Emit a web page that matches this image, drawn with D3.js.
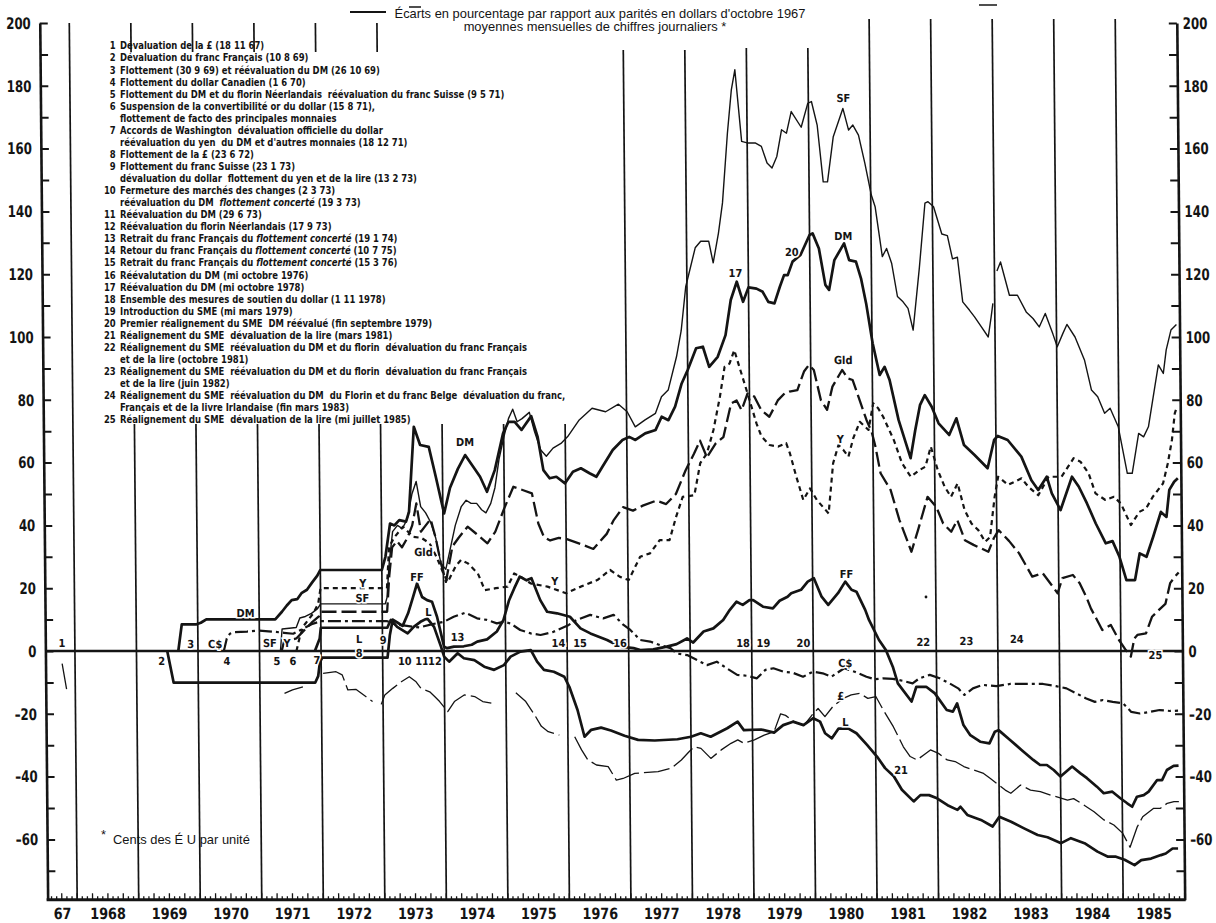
<!DOCTYPE html>
<html><head><meta charset="utf-8">
<script src="https://cdn.jsdelivr.net/npm/d3@7/dist/d3.min.js"></script>
<style>
body{margin:0;background:#fff}
svg{display:block;background:#fff}
text{fill:#141414}
.lg{font-family:"Liberation Sans Narrow","DejaVu Sans Condensed",sans-serif;font-weight:bold;font-size:11px;white-space:pre}
.tk{font-family:"Liberation Sans Narrow","DejaVu Sans Condensed",sans-serif;font-weight:bold}
.ttl{font-family:"Liberation Sans",Arial,sans-serif;font-size:12.9px}
</style></head><body>
<svg id="c" width="1216" height="923"></svg>
<script>
// ---------------- DATA ----------------
const yearLabels = ["67","1968","1969","1970","1971","1972","1973","1974","1975","1976","1977","1978","1979","1980","1981","1982","1983","1984","1985"];
const yTickValues = [200,180,160,140,120,100,80,60,40,20,0,-20,-40,-60];

const SF = [[1971.34,0],[1971.37,7],[1971.6,7.5],[1971.66,10.5],[1971.75,11],[1971.85,12],[1971.95,13.5],[1972.0,15],[1973.05,15],
[1973.08,17],[1973.12,28],[1973.18,38],[1973.26,40],[1973.34,39],[1973.42,42],[1973.5,50],[1973.57,54],[1973.64,46],[1973.72,44],[1973.8,41],[1973.88,36],[1973.96,28],
[1974.04,26],[1974.12,33],[1974.2,40],[1974.3,46],[1974.38,48],[1974.46,47],[1974.55,47],[1974.63,45],[1974.7,44],[1974.78,47],[1974.85,52],[1974.92,61],
[1975.0,68],[1975.08,74],[1975.15,77],[1975.22,73],[1975.3,74],[1975.42,76],[1975.5,70],[1975.6,64],[1975.69,62],[1975.8,64.6],[1975.93,66.1],
[1976.04,68.3],[1976.23,73.6],[1976.44,77.3],[1976.66,76.2],[1976.87,78.6],[1977.01,76.2],[1977.14,71.4],[1977.3,73.6],[1977.47,75.7],[1977.57,81],[1977.68,83.1],[1977.82,93.7],[1977.9,102],[1977.98,116],
[1978.14,128.4],[1978.23,130.5],[1978.36,130.5],[1978.43,123.6],[1978.52,133.1],[1978.59,142.7],[1978.68,164.9],[1978.75,178.7],[1978.81,185.1],[1978.91,162.3],
[1979.0,161.8],[1979.13,161.8],[1979.23,160.7],[1979.32,155.4],[1979.4,153.8],[1979.48,157.5],[1979.56,166],[1979.64,164.9],[1979.72,171.8],[1979.88,166.8],[1979.99,174.4],
[1980.05,175],[1980.14,167.5],[1980.23,149.4],[1980.3,149.4],[1980.4,163.8],[1980.56,172.8],[1980.65,165.9],[1980.72,167.5],[1980.81,164.3],[1980.91,155.3],
[1981.01,145.2],[1981.07,141.5],[1981.18,125.6],[1981.25,128.2],[1981.33,123.5],[1981.42,112.9],[1981.51,111.2],[1981.59,109.1],[1981.67,102.2],[1981.78,122],[1981.88,142.6],[1981.93,143.1],
[1982.02,141.5],[1982.15,132.8],[1982.24,132.3],[1982.32,124.9],[1982.4,125.4],[1982.48,111.2],[1982.59,108.5],[1982.67,106.4],[1982.78,103.2],[1982.89,100],[1982.94,106.4],[1982.97,110.7],[1983.0,null],
[1983.04,121],[1983.1,123.9],[1983.24,113.3],[1983.37,113.3],[1983.51,108],[1983.62,105.9],[1983.72,103.2],[1983.82,107.5],[1983.94,101],
[1984.01,96.9],[1984.1,101],[1984.17,104],[1984.3,100],[1984.45,92.7],[1984.56,83.1],[1984.66,81],[1984.77,75.7],[1984.86,77.3],[1984.99,71.4],
[1985.13,56.6],[1985.21,56.6],[1985.32,69.3],[1985.4,68.2],[1985.48,71.4],[1985.59,84.2],[1985.65,91.1],[1985.73,88.4],[1985.78,95.9],[1985.86,102.2],[1985.95,104]];

const DM = [[1969.68,0],[1969.74,8.5],[1969.98,8.5],[1970.05,9],[1970.14,10.1],[1971.26,10.1],[1971.37,12.5],[1971.45,14.5],[1971.53,16.2],[1971.62,16.5],[1971.69,18.4],[1971.78,19.5],[1971.86,21.7],[1971.95,24],[1972.0,25.8],[1973.0,25.8],
[1973.06,30],[1973.14,40.6],[1973.21,40],[1973.29,41.7],[1973.4,41.2],[1973.45,44.3],[1973.54,71.4],[1973.64,65.6],[1973.78,65],[1973.89,55.5],[1974.02,43.8],
[1974.12,52],[1974.25,58],[1974.37,62.4],[1974.5,58.7],[1974.61,55.5],[1974.72,50.7],[1974.85,57.6],[1974.99,69.3],
[1975.08,73],[1975.18,73],[1975.29,70.4],[1975.45,74.8],[1975.55,68.3],[1975.64,57.6],[1975.74,55],[1975.85,55.5],[1975.99,53.4],
[1976.12,57.1],[1976.25,58.2],[1976.39,56.6],[1976.5,55.5],[1976.6,58.7],[1976.77,64],[1976.93,67.2],[1977.04,68.2],[1977.14,67.2],[1977.3,69.3],[1977.47,70.4],[1977.57,74.6],[1977.68,73.5],[1977.79,77.8],[1977.9,85.2],
[1978.0,89.5],[1978.14,96.4],[1978.25,96.9],[1978.35,90.5],[1978.49,93.7],[1978.62,100.6],[1978.71,111.8],[1978.81,117.6],[1978.91,111.2],
[1979.0,115.8],[1979.13,115.4],[1979.23,114.4],[1979.32,111.2],[1979.42,110.7],[1979.51,116],[1979.58,119.7],[1979.64,119.7],[1979.72,124],[1979.85,126.1],
[1980.0,132.5],[1980.05,133],[1980.15,128.2],[1980.25,116.6],[1980.31,115],[1980.4,124.5],[1980.56,129.8],[1980.64,124.5],[1980.75,124],[1980.83,118.7],[1980.91,110.7],
[1981.01,98],[1981.12,87.9],[1981.2,90.5],[1981.28,86.3],[1981.42,73.6],[1981.61,61.4],[1981.69,70.4],[1981.77,78.3],[1981.85,81.5],[1981.96,77.8],
[1982.07,72.5],[1982.24,68.8],[1982.36,74.1],[1982.48,65.6],[1982.65,62.4],[1982.86,58.2],[1982.97,67.2],[1983.03,68.5],[1983.19,67.2],[1983.41,61.9],[1983.57,54.4],[1983.68,51.3],[1983.82,55.5],[1983.9,50.2],
[1984.04,44.9],[1984.23,55.5],[1984.34,52.3],[1984.47,47],[1984.61,40.6],[1984.77,34.3],[1984.88,35],[1984.99,30],
[1985.1,22.6],[1985.24,22.6],[1985.32,31.1],[1985.43,30],[1985.54,36.3],[1985.67,44.3],[1985.76,42.7],[1985.81,51.3],[1985.89,53.9],[1985.95,55]];

const GLD = [[1971.36,0],[1971.4,3],[1971.6,4],[1971.7,6],[1971.85,9],[1971.97,11],[1972.0,12.5],[1973.08,12.5],
[1973.12,24],[1973.17,33],[1973.25,35],[1973.33,33],[1973.42,36],[1973.5,40],[1973.57,47],[1973.64,38],[1973.72,40],[1973.8,42],[1973.88,36],[1973.96,28],
[1974.04,22],[1974.15,33.3],[1974.25,36],[1974.4,39.6],[1974.53,37.5],[1974.72,34.3],[1974.85,38],[1975.0,45.5],[1975.15,52.3],[1975.31,51.2],[1975.45,50.2],[1975.55,40.6],[1975.64,36.3],[1975.74,35.2],[1975.88,36],
[1976.0,35.7],[1976.23,34.1],[1976.44,32.5],[1976.66,37.3],[1976.77,41.5],[1976.93,45.8],[1977.09,44.7],[1977.25,46.3],[1977.47,47.9],[1977.63,46.8],[1977.79,50],[1977.95,57.5],
[1978.09,62.8],[1978.19,67],[1978.3,61.7],[1978.44,66],[1978.57,68.1],[1978.7,78.8],[1978.79,79.8],[1978.87,76.7],[1978.97,82],
[1979.08,81],[1979.19,76.7],[1979.32,74.6],[1979.46,79.8],[1979.57,82],[1979.65,82.6],[1979.78,83.1],[1979.89,89],[1979.97,91.1],
[1980.05,89.5],[1980.16,79.9],[1980.26,76.8],[1980.35,84.2],[1980.51,89.5],[1980.6,86.8],[1980.68,86.3],[1980.79,79.9],[1980.9,73.5],[1980.98,69.9],
[1981.04,65.1],[1981.12,56.6],[1981.28,51.3],[1981.42,41.7],[1981.61,31.6],[1981.72,38.5],[1981.88,49.1],
[1982.02,45.9],[1982.13,40.6],[1982.26,38],[1982.36,41.7],[1982.48,35.3],[1982.62,33.8],[1982.86,31.6],[1982.95,35.9],
[1983.03,38.5],[1983.2,35],[1983.36,31.1],[1983.57,23.7],[1983.74,24.8],[1983.98,18.4],[1984.06,23.2],[1984.23,24.2],[1984.34,21.6],[1984.45,17],[1984.52,13.5],[1984.59,10.9],[1984.7,6.7],[1984.84,8.3],[1984.97,3.5],
[1985.08,0.3],[1985.16,-1.8],[1985.22,4],[1985.27,5.1],[1985.41,5.6],[1985.51,10.9],[1985.62,13],[1985.73,15],[1985.81,21.6],[1985.89,23.7],[1985.95,25]];

const YEN = [[1971.6,0],[1971.65,4],[1971.72,8],[1971.8,10],[1971.88,12],[1971.96,15],[1972.0,20],[1973.08,20],
[1973.12,33],[1973.2,36],[1973.35,39.6],[1973.51,36.4],[1973.65,36],[1973.78,34.3],[1973.89,30],[1974.0,24.7],[1974.07,22],[1974.2,27],[1974.29,29],[1974.4,27.9],[1974.56,24.7],[1974.67,19.4],[1974.85,20],
[1975.04,20.5],[1975.15,24.7],[1975.26,23.6],[1975.42,21.5],[1975.69,20.5],[1975.99,18.4],[1976.23,20.5],[1976.5,22.6],[1976.71,25.8],[1976.87,23.6],
[1977.01,22.6],[1977.2,30],[1977.36,31.1],[1977.52,35.3],[1977.68,35.3],[1977.79,42.7],[1977.9,49.1],[1978.09,49.6],[1978.19,59.8],[1978.3,62.9],[1978.41,70.4],[1978.52,81],[1978.6,90.5],[1978.68,91.5],[1978.76,95.8],[1978.84,90.5],[1978.97,82],
[1979.11,72.5],[1979.19,68.3],[1979.32,65.6],[1979.46,65.1],[1979.59,66.2],[1979.65,62.9],[1979.75,55.5],[1979.86,48.1],[1979.97,51.8],
[1980.08,48.1],[1980.27,43.8],[1980.35,59.8],[1980.44,65.6],[1980.52,64],[1980.6,61.9],[1980.68,67.7],[1980.79,73],[1980.93,70.4],
[1981.01,78.9],[1981.09,77.3],[1981.17,74.6],[1981.34,67.2],[1981.47,59.8],[1981.61,55.5],[1981.75,57.6],[1981.85,58.7],[1981.94,65.1],
[1982.05,57.6],[1982.16,52.3],[1982.26,49.1],[1982.37,53.4],[1982.48,44.9],[1982.59,40.6],[1982.7,38.5],[1982.81,34.8],[1982.89,36.3],[1982.97,49.1],
[1983.03,55.5],[1983.19,52.9],[1983.41,55],[1983.52,52.3],[1983.68,49.6],[1983.85,55.5],[1984.06,55.5],[1984.26,61.4],[1984.37,60.3],[1984.5,56.6],[1984.61,50.2],[1984.77,48.1],[1984.91,49.1],
[1985.02,47],[1985.18,40.1],[1985.32,44.3],[1985.43,45.4],[1985.54,49.1],[1985.71,53.4],[1985.79,59.8],[1985.86,67.2],[1985.91,75.7],[1985.95,78]];

const FF = [[1969.5,0],[1969.6,-10.1],[1971.9,-10.1],[1971.95,-8],[1971.98,-3.5],[1972.02,-2.1],[1973.08,-2.1],
[1973.12,5],[1973.17,10],[1973.25,9],[1973.33,8],[1973.42,12],[1973.5,17],[1973.57,21.5],[1973.65,17.2],[1973.73,16.2],[1973.81,15.7],[1973.89,10.9],[1974.0,1.4],
[1974.05,0.9],[1974.16,1.4],[1974.32,1.5],[1974.45,2],[1974.54,3],[1974.7,3.7],[1974.86,6.2],[1974.97,9.9],[1975.06,16],[1975.15,20],[1975.24,23.7],[1975.35,22.5],[1975.43,23.2],[1975.57,16.2],[1975.68,12.5],[1975.84,12],
[1976.05,10.9],[1976.22,7.2],[1976.38,5.6],[1976.65,3.5],[1976.86,1.4],[1977.08,0.9],[1977.19,0.3],[1977.4,0.5],[1977.62,1.4],[1977.78,2.2],[1977.95,4],
[1978.05,2.7],[1978.22,6.2],[1978.38,7.2],[1978.54,9.9],[1978.65,13.1],[1978.76,15.7],[1978.86,14.7],[1978.97,16.2],[1979.03,16.2],[1979.19,14.1],[1979.35,13.6],[1979.46,16],[1979.59,17.3],[1979.65,18.4],[1979.81,19.5],[1979.92,22.1],
[1980.02,23.2],[1980.14,17.4],[1980.25,14.7],[1980.41,18.4],[1980.53,22.1],[1980.63,19.5],[1980.71,18.9],[1980.85,13.1],[1980.91,9.9],
[1981.07,3.5],[1981.18,0.3],[1981.29,-5],[1981.37,-10.3],[1981.59,-16.1],[1981.67,-11.4],[1981.83,-11.4],[1981.97,-13.5],
[1982.16,-18.8],[1982.26,-19.3],[1982.33,-16.7],[1982.43,-23.6],[1982.54,-26.8],[1982.7,-28.9],[1982.85,-29.4],[1982.94,-25.7],[1983.0,-25.2],
[1983.19,-28.4],[1983.37,-31.5],[1983.56,-34.7],[1983.67,-36.3],[1983.78,-36.3],[1983.89,-37.9],[1984.0,-40],[1984.19,-36.8],[1984.32,-38.9],[1984.43,-40.5],[1984.59,-43.2],[1984.7,-45.3],[1984.84,-44.8],[1984.97,-46.9],
[1985.08,-48.5],[1985.16,-49.6],[1985.24,-46.4],[1985.35,-45.9],[1985.43,-44.8],[1985.57,-41.1],[1985.65,-41.1],[1985.73,-37.9],[1985.84,-36.6],[1985.92,-36.5]];

const LIRA = [[1971.9,0],[1971.98,4],[1972.0,7.4],[1973.08,7.4],
[1973.1,8.3],[1973.14,9.9],[1973.24,7.7],[1973.41,5.6],[1973.51,7.7],[1973.62,9.3],[1973.73,10.4],[1973.84,7.7],[1973.95,1.4],
[1974.0,-1.8],[1974.08,-3.4],[1974.22,-0.7],[1974.32,-2.3],[1974.49,-2.9],[1974.65,-5],[1974.81,-6],[1974.97,-4.5],[1975.08,-1.8],[1975.24,-0.2],[1975.41,0.3],[1975.51,-3.4],[1975.62,-6],[1975.78,-6.6],[1975.95,-8.2],
[1976.03,-11.4],[1976.16,-18.8],[1976.27,-27.3],[1976.38,-25.1],[1976.54,-24.4],[1976.7,-25.3],[1976.92,-27],[1977.14,-28.3],[1977.41,-28.5],[1977.78,-28.1],
[1978.0,-27.3],[1978.16,-26.2],[1978.32,-27.3],[1978.59,-24.6],[1978.76,-22.5],[1978.86,-25.2],[1979.14,-25],[1979.35,-26],[1979.5,-23.6],[1979.66,-22.5],[1979.83,-23.6],[1979.99,-21.4],
[1980.1,-22.5],[1980.18,-26.2],[1980.29,-27.8],[1980.4,-24.7],[1980.56,-24.7],[1980.69,-26.2],[1980.86,-29.9],
[1981.02,-33.6],[1981.15,-37.3],[1981.29,-39.9],[1981.42,-44.2],[1981.61,-47.9],[1981.72,-45.9],[1981.86,-45.9],[1981.99,-46.9],
[1982.16,-49.1],[1982.32,-50.6],[1982.37,-49.6],[1982.48,-52.2],[1982.7,-53.8],[1982.89,-55.9],[1983.0,-52.8],[1983.19,-54.4],[1983.4,-56.5],[1983.62,-58.6],[1983.78,-59.3],
[1984.0,-61.2],[1984.16,-59.6],[1984.38,-61.2],[1984.59,-63.9],[1984.76,-65.5],[1984.89,-65.5],[1985.03,-66.5],[1985.19,-68.2],[1985.3,-66.6],[1985.46,-66.1],[1985.62,-65],[1985.7,-64.5],[1985.81,-62.9],[1985.9,-62.9]];

const GBP = [[1967.79,-4],[1967.87,-13.5],[1967.9,null],
[1971.4,-13.5],[1971.53,-12.4],[1971.7,-11.4],[1971.8,null],
[1972.03,-7.1],[1972.24,-6.6],[1972.34,-7.6],[1972.43,-12.4],[1972.56,-12.2],[1972.72,-14.5],[1972.83,-16.1],[1972.9,null],
[1972.97,-17],[1973.03,-14],[1973.16,-11.9],[1973.3,-9.8],[1973.43,-8.2],[1973.54,-9.8],[1973.62,-11.9],[1973.76,-13],[1973.84,-14.5],[1973.92,-16.1],
[1974.05,-19.3],[1974.16,-16.1],[1974.32,-14],[1974.49,-14.5],[1974.62,-16.1],[1974.76,-16.6],[1974.9,null],
[1975.16,-13.3],[1975.32,-16.1],[1975.46,-20.3],[1975.57,-24],[1975.68,-25.7],[1975.86,-26.8],[1975.95,null],
[1976.11,-27.3],[1976.22,-31.5],[1976.32,-34.7],[1976.46,-36.3],[1976.65,-36.8],[1976.78,-41.1],[1976.89,-40.6],
[1977.08,-39],[1977.46,-38.4],[1977.68,-37.3],[1977.84,-34.7],[1977.97,-32],[1978.05,-30.5],[1978.16,-31],[1978.32,-34.2],[1978.49,-31.5],[1978.65,-29.4],[1978.76,-28.3],[1978.86,-29.4],
[1979.03,-28.3],[1979.19,-26.8],[1979.35,-25.7],[1979.46,-20],[1979.54,-20.5],[1979.68,-22.6],[1979.84,-23.6],[1979.97,-20.4],
[1980.07,-18.3],[1980.18,-20.9],[1980.31,-17.7],[1980.48,-15.1],[1980.61,-14],[1980.75,-13.5],[1980.88,-15.1],
[1981.01,-14.5],[1981.13,-18.8],[1981.29,-24.1],[1981.45,-30.5],[1981.56,-33.6],[1981.67,-34.7],[1981.78,-33.1],[1981.89,-31.5],
[1982.02,-32.6],[1982.16,-34.7],[1982.29,-35.2],[1982.43,-36.8],[1982.59,-37.9],[1982.75,-39],[1982.86,-40.6],
[1983.1,-44.3],[1983.19,-45.3],[1983.35,-42.7],[1983.51,-44.3],[1983.67,-44.8],[1983.84,-45.9],
[1984.11,-47.5],[1984.21,-47],[1984.38,-49.1],[1984.54,-51.2],[1984.7,-53.8],[1984.86,-55.4],[1985.0,-58],[1985.12,-62.5],[1985.24,-56],[1985.33,-52.8],[1985.51,-50.1],[1985.62,-50.1],[1985.73,-48.5],[1985.84,-48],[1985.92,-48]];

const CAD = [[1970.42,0],[1970.47,4],[1970.52,5.5],[1970.6,6],[1970.8,6.2],[1971.0,6.5],[1971.2,6.2],[1971.4,5.8],[1971.55,5.5],[1971.7,7],[1971.85,8.5],[1972.0,9.5],[1973.08,9.5],
[1973.2,8.5],[1973.4,8],[1973.6,7.5],[1973.8,8.5],[1974.0,9.3],[1974.16,10.9],[1974.35,12.2],[1974.54,10.4],[1974.7,9.9],[1974.86,8.8],[1974.97,9.3],
[1975.08,8.8],[1975.24,6.7],[1975.41,5.6],[1975.57,5.1],[1975.78,6.1],[1976.03,8.3],[1976.16,9.9],[1976.38,11.5],[1976.59,10.4],[1976.76,11.5],[1976.92,8.3],
[1977.03,6.7],[1977.19,3.5],[1977.35,3],[1977.51,1.9],[1977.68,0.9],[1977.78,-0.8],[1977.95,-1.3],[1978.11,-2.9],[1978.27,-4.5],[1978.43,-3.4],[1978.59,-5.5],[1978.76,-7.6],[1978.92,-7.9],
[1979.08,-8.7],[1979.22,-6],[1979.35,-5.5],[1979.51,-6.6],[1979.66,-6.9],[1979.83,-8.2],[1979.99,-6.6],[1980.15,-7.1],[1980.29,-8.2],[1980.5,-5.5],[1980.67,-6.6],[1980.86,-8.2],[1980.99,-9],
[1981.13,-8.7],[1981.29,-8.9],[1981.45,-9.5],[1981.61,-10.3],[1981.72,-8.7],[1981.89,-7.6],[1982.05,-8.7],[1982.21,-10.3],[1982.35,-11.9],[1982.45,-14],[1982.59,-11.9],[1982.75,-10.8],[1982.97,-11.2],
[1983.19,-10.5],[1983.4,-10.5],[1983.73,-10.5],[1983.94,-11.2],[1984.11,-11.9],[1984.27,-13.5],[1984.43,-15.1],[1984.57,-16.2],[1984.7,-15.6],[1984.86,-16.2],
[1985.03,-16.7],[1985.16,-19.4],[1985.3,-19.9],[1985.46,-19.4],[1985.62,-18.8],[1985.79,-19.1],[1985.92,-19]];

const eventLabels = [["1",1967.79,2.5],["2",1969.41,-3.1],["3",1969.88,2.1],["4",1970.47,-3.1],["5",1971.28,-3.1],["6",1971.54,-3.1],["7",1971.93,-2.9],["8",1972.62,-0.5],["9",1973.01,3.5],["10",1973.36,-3.1],["11",1973.64,-3.1],["12",1973.85,-3.1],["13",1974.22,4.4],["14",1975.86,2.6],["15",1976.21,2.6],["16",1976.86,2.6],["17",1978.79,120.5],["18",1978.86,2.6],["19",1979.19,2.6],["20",1979.84,2.5],["20",1979.71,127.2],["21",1981.41,-38],["22",1981.79,3],["23",1982.49,3.3],["24",1983.31,3.7],["25",1985.56,-1.3]];
const seriesLabels = [["C$",1970.28,2.1],["SF",1971.17,2.5],["Y",1971.45,2.5],["DM",1970.78,12.2],["L",1972.62,3.8],["Y",1972.69,21.8],["SF",1972.68,16.8],["DM",1974.37,66.5],["Gld",1973.68,31.6],["FF",1973.57,23.7],["L",1973.75,12.5],["Y",1975.81,22.4],["SF",1980.57,176],["DM",1980.55,132.2],["Gld",1980.53,92.7],["Y",1980.47,67.6],["FF",1980.55,24.5],["C$",1980.52,-3.7],["£",1980.44,-14.3],["L",1980.51,-22.5]];

const titleLines = ["Écarts en pourcentage par rapport aux parités en dollars d'octobre 1967","moyennes mensuelles de chiffres journaliers *"];
const footnote = "Cents des É U par unité";
const legendItems = [
 ["1","Dévaluation de la £ (18 11 67)"],
 ["2","Dévaluation du franc Français (10 8 69)"],
 ["3","Flottement (30 9 69) et réévaluation du DM (26 10 69)"],
 ["4","Flottement du dollar Canadien (1 6 70)"],
 ["5","Flottement du DM et du florin Néerlandais  réévaluation du franc Suisse (9 5 71)"],
 ["6","Suspension de la convertibilité or du dollar (15 8 71),"],
 ["","flottement de facto des principales monnaies"],
 ["7","Accords de Washington  dévaluation officielle du dollar"],
 ["","réévaluation du yen  du DM et d'autres monnaies (18 12 71)"],
 ["8","Flottement de la £ (23 6 72)"],
 ["9","Flottement du franc Suisse (23 1 73)"],
 ["","dévaluation du dollar  flottement du yen et de la lire (13 2 73)"],
 ["10","Fermeture des marchés des changes (2 3 73)"],
 ["","réévaluation du DM  *flottement concerté* (19 3 73)"],
 ["11","Réévaluation du DM (29 6 73)"],
 ["12","Réévaluation du florin Néerlandais (17 9 73)"],
 ["13","Retrait du franc Français du *flottement concerté* (19 1 74)"],
 ["14","Retour du franc Français du *flottement concerté* (10 7 75)"],
 ["15","Retrait du franc Français du *flottement concerté* (15 3 76)"],
 ["16","Réévalutation du DM (mi octobre 1976)"],
 ["17","Réévaluation du DM (mi octobre 1978)"],
 ["18","Ensemble des mesures de soutien du dollar (1 11 1978)"],
 ["19","Introduction du SME (mi mars 1979)"],
 ["20","Premier réalignement du SME  DM réévalué (fin septembre 1979)"],
 ["21","Réalignement du SME  dévaluation de la lire (mars 1981)"],
 ["22","Réalignement du SME  réévaluation du DM et du florin  dévaluation du franc Français"],
 ["","et de la lire (octobre 1981)"],
 ["23","Réalignement du SME  réévaluation du DM et du florin  dévaluation du franc Français"],
 ["","et de la lire (juin 1982)"],
 ["24","Réalignement du SME  réévaluation du DM  du Florin et du franc Belge  dévaluation du franc,"],
 ["","Français et de la livre Irlandaise (fin mars 1983)"],
 ["25","Réalignement du SME  dévaluation de la lire (mi juillet 1985)"]
];

// ---------------- DRAWING ----------------
const INK = "#141414";
const svg = d3.select("#c");
const K = 0.009, Y0 = 880;           // slight scan shear
const x = d3.scaleLinear().domain([1968, 1986]).range([77, 1184.5]);
const y = d3.scaleLinear().domain([0, 200]).range([651, 23]);
const T0 = 1967.52, T1 = 1986, VMIN = -79.2;
const g = svg.append("g").attr("transform", `matrix(1,0,${K},1,${-K*Y0},0)`);

// year separator lines (broken by the legend / title)
const spans = {1968:[[23,900]],1969:[[23,52],[424,900]],1970:[[23,52],[424,900]],1971:[[23,52],[424,900]],1972:[[23,52],[424,900]],1973:[[23,52],[424,900]],
 1974:[[424,900]],1975:[[424,900]],1976:[[424,900]],1977:[[50,900]],1978:[[50,900]],1979:[[48,900]],1980:[[48,900]],
 1981:[[19,900]],1982:[[19,900]],1983:[[19,900]],1984:[[19,900]],1985:[[19,900]]};
Object.entries(spans).forEach(([yr, segs]) => segs.forEach(s => {
  g.append("line").attr("x1", x(+yr)).attr("x2", x(+yr)).attr("y1", s[0]).attr("y2", s[1])
   .attr("stroke", INK).attr("stroke-width", 1.7);
}));

// axes
const yAx = d3.scaleLinear().domain([VMIN, 200]).range([y(VMIN), y(200)]);
const tickVals = d3.range(-70, 201, 10);
g.append("g").attr("transform", `translate(${x(T0)},0)`)
  .call(d3.axisRight(yAx).tickValues(tickVals).tickSize(8).tickSizeOuter(0).tickFormat(""))
  .call(a => { a.select(".domain").attr("stroke", INK).attr("stroke-width", 2.6); a.selectAll(".tick line").attr("stroke", INK).attr("stroke-width", 2); });
g.append("g").attr("transform", `translate(${x(T1)},0)`)
  .call(d3.axisLeft(yAx).tickValues(tickVals).tickSize(8).tickSizeOuter(0).tickFormat(""))
  .call(a => { a.select(".domain").attr("stroke", INK).attr("stroke-width", 2.6); a.selectAll(".tick line").attr("stroke", INK).attr("stroke-width", 2); });

const fmt = v => v < 0 ? "\u2013" + (-v) : String(v);
function yLabels(cls, xpos, anchor) {
  g.selectAll("g." + cls).data(yTickValues).join("g").attr("class", cls)
    .attr("transform", d => `translate(${xpos},${y(d)}) scale(0.82,1)`)
    .append("text").attr("class", "tk").attr("dy", "0.36em").attr("text-anchor", anchor)
    .attr("font-size", 16).text(fmt);
}
yLabels("yl", x(T0) - 9, "end");
yLabels("yr", x(T1) + 6, "start");

// bottom axis with month ticks
const yb = yAx(VMIN);
g.append("line").attr("x1", x(T0) - 1).attr("x2", x(T1) + 1).attr("y1", yb).attr("y2", yb).attr("stroke", INK).attr("stroke-width", 3);
const months = d3.range(7, 229).map(m => 1967 + m / 12);
g.selectAll("line.mt").data(months).join("line").attr("class", "mt")
  .attr("x1", d => x(d)).attr("x2", d => x(d)).attr("y1", yb)
  .attr("y2", (d, i) => yb - (((i + 7) % 3 === 0) ? 6.5 : 3.5)).attr("stroke", INK).attr("stroke-width", 1.3);
g.selectAll("g.xl").data(yearLabels).join("g").attr("class", "xl")
  .attr("transform", (d, i) => `translate(${i === 0 ? (x(T0) + x(1968)) / 2 : x(1967 + i + 0.5)},918.5) scale(0.92,1)`)
  .append("text").attr("class", "tk").attr("text-anchor", "middle").attr("font-size", 15.5).text(d => d);

// zero line
g.append("line").attr("x1", x(T0)).attr("x2", x(T1)).attr("y1", y(0)).attr("y2", y(0)).attr("stroke", INK).attr("stroke-width", 2.3);

// series
const line = d3.line().defined(d => d[1] !== null).x(d => x(d[0])).y(d => y(d[1]));
const series = [
  {d: CAD, w: 2.2, dash: "13,4,3,4"},
  {d: GBP, w: 1.3, dash: "26,5"},
  {d: YEN, w: 2.2, dash: "5,4"},
  {d: GLD, w: 2.3, dash: "15,5"},
  {d: SF,  w: 1.4, dash: null},
  {d: LIRA, w: 2.7, dash: null},
  {d: FF,  w: 2.7, dash: null},
  {d: DM,  w: 2.7, dash: null}
];
series.forEach(s => {
  g.append("path").datum(s.d).attr("d", line).attr("fill", "none").attr("stroke", INK)
   .attr("stroke-width", s.w).attr("stroke-linejoin", "round").attr("stroke-dasharray", s.dash);
});

// labels
function lab(data, size) {
  g.selectAll(null).data(data).join("text").attr("class", "tk")
   .attr("x", d => x(d[1])).attr("y", d => y(d[2])).attr("dy", "0.36em").attr("text-anchor", "middle")
   .attr("font-size", size).attr("stroke", "#fff").attr("stroke-width", 3).attr("paint-order", "stroke")
   .text(d => d[0]);
}
lab(eventLabels, 11);
lab(seriesLabels, 11);

// title (outside the sheared group: observed positions)
svg.selectAll("text.ttl").data(titleLines).join("text").attr("class", "ttl")
  .attr("x", (d, i) => i === 0 ? 600 : 595).attr("y", (d, i) => 18 + i * 13).attr("text-anchor", "middle").text(d => d);

// scan marks at top
[[350,386,12,2],[409,421,7,1.5],[979,997,5,1.5]].forEach(m =>
  svg.append("line").attr("x1", m[0]).attr("x2", m[1]).attr("y1", m[2]).attr("y2", m[2]).attr("stroke", INK).attr("stroke-width", m[3]));
svg.append("circle").attr("cx", 926).attr("cy", 597).attr("r", 1.4).attr("fill", INK);

// legend (condensed horizontally)
const lgY0 = 45.6, lgDy = 12.06;
const lg = svg.append("g").attr("transform", "translate(120,0) scale(0.855,1)");
legendItems.forEach((it, i) => {
  const yy = lgY0 + i * lgDy + 3.8;
  if (it[0]) lg.append("text").attr("class", "lg").attr("x", -5).attr("y", yy).attr("text-anchor", "end").text(it[0]);
  const t = lg.append("text").attr("class", "lg").attr("x", 0).attr("y", yy);
  it[1].split("*").forEach((part, j) => {
    if (part.length) t.append("tspan").attr("font-style", j % 2 ? "italic" : null).text(part);
  });
});

// footnote
svg.append("text").attr("class", "ttl").attr("x", 101).attr("y", 839).attr("font-size", 11).text("*");
svg.append("text").attr("class", "ttl").attr("x", 113).attr("y", 844).attr("font-size", 13.2).text(footnote);
</script>
</body></html>
